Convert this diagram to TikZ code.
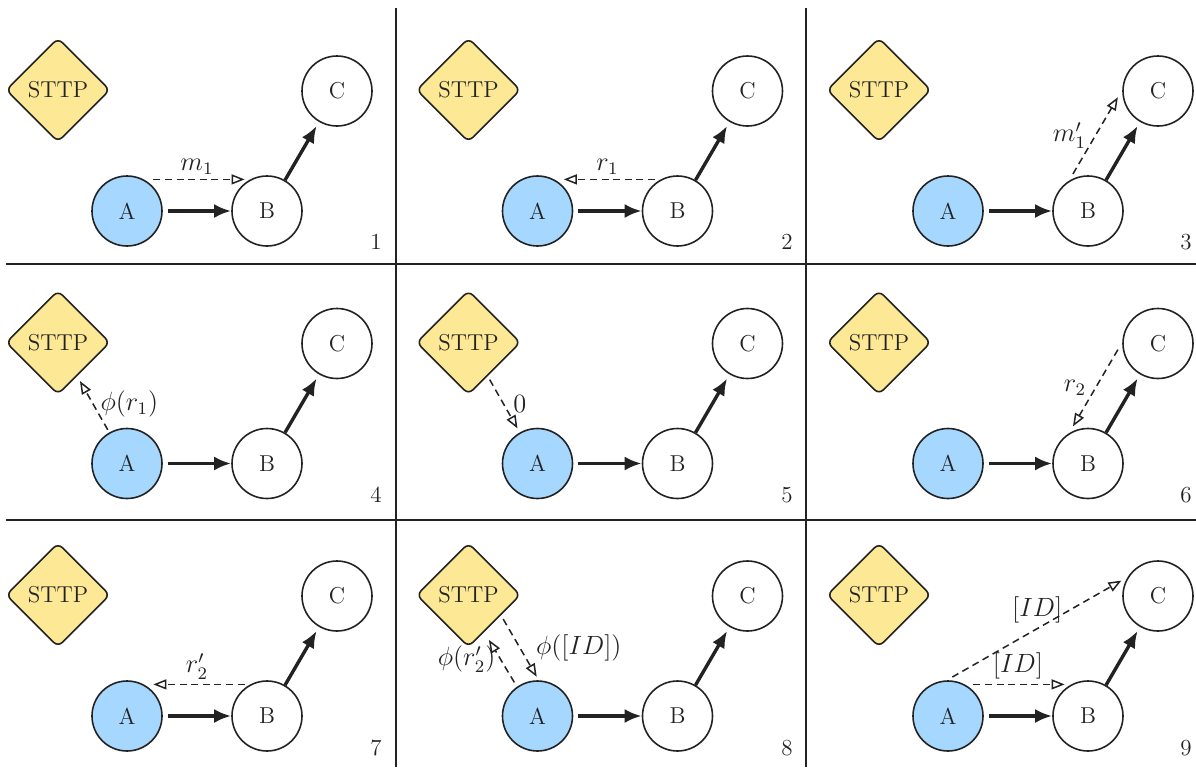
\documentclass[tikz,border=0pt]{standalone}
\usetikzlibrary{arrows.meta,shapes.geometric}

\definecolor{sttpfill}{RGB}{253,232,150}
\definecolor{ownfill}{RGB}{166,216,255}
\definecolor{ink}{RGB}{34,34,34}

\begin{document}
\begin{tikzpicture}[x=0.5pt,y=-0.5pt,font=\fontsize{11.5}{13.8}\selectfont,
	party/.style={circle,draw=ink,line width=0.8pt,minimum size=35pt,inner sep=0pt,text=ink},
	server/.style={diamond,draw=ink,fill=sttpfill,line width=0.8pt,minimum size=52pt,inner sep=0pt,rounded corners=3pt,text=ink},
	link/.style={draw=ink,line width=1.7pt,-{Latex[length=8.5pt,width=7pt]}},
	msg/.style={draw=ink,line width=0.75pt,dash pattern=on 3.5pt off 2.3pt,-{Triangle[open,length=6.5pt,width=5pt]}},
	lbl/.style={inner sep=2pt,text=ink},
	mlbl/.style={lbl,scale=1.1,transform shape}]

\useasboundingbox (0,0) rectangle (1196,767);

\draw[ink,line width=1.3pt] (396,8)--(396,767);
\draw[ink,line width=1.3pt] (806,8)--(806,767);
\draw[ink,line width=1.3pt] (6,264)--(1196,264);
\draw[ink,line width=1.3pt] (6,520)--(1196,520);

\foreach \col/\row/\num/\numx in {0/0/1/376,1/0/2/787,2/0/3/1186,0/1/4/376,1/1/5/787,2/1/6/1186,0/2/7/376,1/2/8/787,2/2/9/1186} {
	\node[party,fill=ownfill] (A\num) at ({127+410.5*\col},{211+252.5*\row}) {A};
	\node[party] (B\num) at ([shift={(140,0)}]A\num.center) {B};
	\node[party] (C\num) at ([shift={(210,-120)}]A\num.center) {C};
	\node[server] (S\num) at ([shift={(-69,-121)}]A\num.center) {STTP};
	\node[lbl] (N\num) at ({\numx},{242+253*\row}) {\num};
	\draw[link,shorten <=2.5pt] (A\num)--(B\num);
	\draw[link,shorten >=2.3pt] (B\num)--(C\num);
}

\draw[msg,shorten <=4.8pt,shorten >=2.8pt] (A1.62) -- node[mlbl,above] {$m_1$} (B1.118);
\draw[msg,shorten <=2.8pt,shorten >=4.8pt] (B2.118) -- node[mlbl,above] {$r_1$} (A2.62);
\draw[msg,shorten <=3.9pt,shorten >=4.3pt] (B3.122) -- node[mlbl,left=2pt] {$m_1'$} (C3.178);
\draw[msg,shorten <=1.5pt,shorten >=2.8pt] (A4) -- node[mlbl,right=1pt] {$\phi(r_1)$} (S4);
\draw[msg,shorten <=2pt,shorten >=2.3pt] (S5) -- node[mlbl,right=2pt] {$0$} (A5);
\draw[msg,shorten <=4.3pt,shorten >=3.9pt] (C6.178) -- node[mlbl,left=2pt] {$r_2$} (B6.122);
\draw[msg,shorten <=2.8pt,shorten >=4.8pt] (B7.118) -- node[mlbl,above] {$r_2'$} (A7.62);
\draw[msg,shorten <=2.5pt,shorten >=4.5pt] (A8.125) -- node[mlbl,left] {$\phi(r_2')$} (S8.293);
\draw[msg,shorten <=2.2pt,shorten >=2pt] (S8.328) -- node[mlbl,right=5pt] {$\phi([ID])$} (A8.88);
\draw[msg,shorten <=4.3pt,shorten >=3.3pt] (A9.62) -- node[mlbl,above] {$[ID]$} (B9.118);
\draw[msg,shorten <=3.2pt,shorten >=3.6pt] (A9.92) -- node[mlbl,above] {$[ID]$} (C9.148);

\end{tikzpicture}
\end{document}
